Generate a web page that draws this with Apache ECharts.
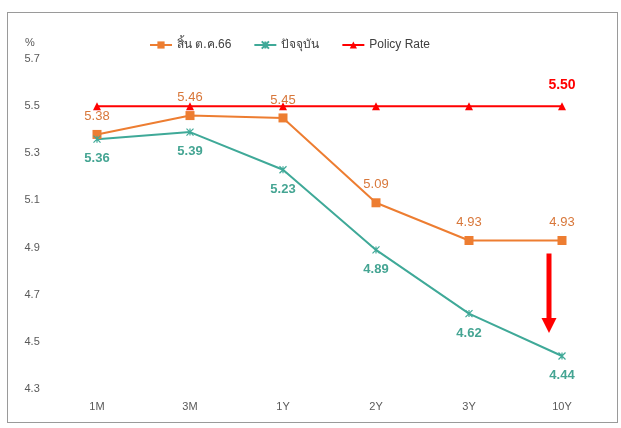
<!DOCTYPE html>
<html><head><meta charset="utf-8">
<script src="https://cdn.jsdelivr.net/npm/echarts@6/dist/echarts.min.js"></script>
<style>
html,body{margin:0;padding:0;background:#fff;}
#c{position:absolute;left:0;top:0;width:621px;height:428px;}
#frame{position:absolute;left:7px;top:12px;width:609px;height:409px;border:1.5px solid #9a9a9a;pointer-events:none;}
</style></head>
<body>
<div id="c"></div><div id="frame"></div>
<script>
const categories = ['1M','3M','1Y','2Y','3Y','10Y'];
const endOct66 = [5.38,5.46,5.45,5.09,4.93,4.93];
const current = [5.36,5.39,5.23,4.89,4.62,4.44];
const policyRate = [5.50,5.50,5.50,5.50,5.50,5.50];
const yTicks = {min:4.3,max:5.7,interval:0.2};
const seriesNames = ['สิ้น ต.ค.66','ปัจจุบัน','Policy Rate'];

const orange = '#ED7D31', teal = '#3FA998', red = '#FF0000';
const font = '"Liberation Sans","Noto Sans",sans-serif';
const starPath = 'path://M0,0L10,10M10,0L0,10M5,0L5,10';

const chart = echarts.init(document.getElementById('c'));
chart.setOption({
  animation:false,
  textStyle:{fontFamily:font},
  grid:{left:50.5,right:12.5,top:59,bottom:39},
  legend:{
    top:34,left:144,itemGap:22,itemWidth:22,itemHeight:9,itemTextGap:4,
    textStyle:{fontSize:12,color:'#404040',fontFamily:font},
    data:seriesNames
  },
  xAxis:{type:'category',data:categories,boundaryGap:true,
    axisLine:{show:false},axisTick:{show:false},
    axisLabel:{color:'#595959',fontSize:11,margin:12}},
  yAxis:{type:'value',min:yTicks.min,max:yTicks.max,interval:yTicks.interval,
    splitLine:{show:false},axisLine:{show:false},axisTick:{show:false},
    axisLabel:{color:'#595959',fontSize:11,align:'left',margin:26,formatter:v=>v.toFixed(1)}},
  series:[
    {name:seriesNames[0],type:'line',data:endOct66,symbol:'rect',symbolSize:9,
      lineStyle:{color:orange,width:2},itemStyle:{color:orange},
      label:{show:true,position:'top',distance:7,color:'#D8773A',fontSize:13,formatter:p=>p.value.toFixed(2)}},
    {name:seriesNames[1],type:'line',data:current,symbol:starPath,symbolSize:7,
      lineStyle:{color:teal,width:2},itemStyle:{color:teal,borderColor:teal,borderWidth:1.2},
      label:{show:true,position:'bottom',distance:9,color:'#45A593',fontSize:13,fontWeight:'bold',formatter:p=>p.value.toFixed(2)}},
    {name:seriesNames[2],type:'line',data:policyRate,symbol:'triangle',symbolSize:8,
      lineStyle:{color:red,width:2},itemStyle:{color:red},
      label:{show:true,position:'top',distance:10,color:red,fontSize:14,fontWeight:'bold',
        formatter:p=>p.dataIndex===categories.length-1?p.value.toFixed(2):''}}
  ]
});

// annotation arrow at 10Y from the end-Oct level down toward the current level
const last = categories.length-1;
const pTop = chart.convertToPixel({gridIndex:0},[last, endOct66[last]]);
const pBot = chart.convertToPixel({gridIndex:0},[last, current[last]]);
const ax = pTop[0]-13, y1 = pTop[1]+13, y2 = pBot[1]-24;
chart.setOption({graphic:[
  {type:'text',left:25,top:37,style:{text:'%',fontSize:11,fill:'#595959',fontFamily:font}},
  {type:'line',shape:{x1:ax,y1:y1,x2:ax,y2:y2-12},style:{stroke:red,lineWidth:5}},
  {type:'polygon',shape:{points:[[ax-7.5,y2-14],[ax+7.5,y2-14],[ax,y2+1]]},style:{fill:red}}
]});
</script>
</body></html>
